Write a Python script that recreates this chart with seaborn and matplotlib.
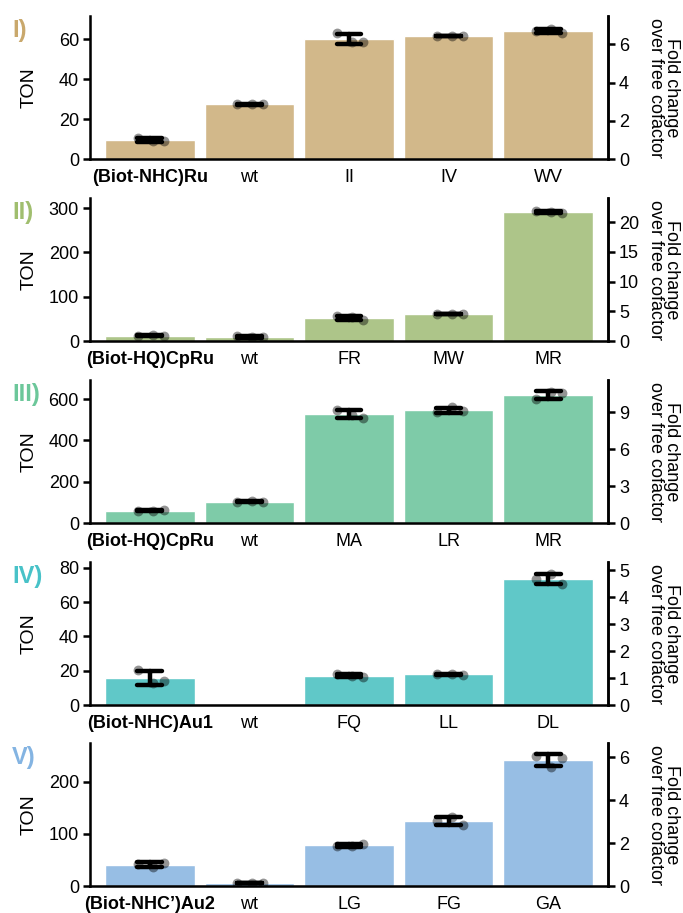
import numpy as np
import pandas as pd
import matplotlib
matplotlib.use('Agg')
import matplotlib.pyplot as plt
from matplotlib.ticker import MultipleLocator
import seaborn as sns

nan = np.nan

# categories per panel
cats_1 = ['(Biot-NHC)Ru', 'wt', 'II', 'IV', 'WV']
cats_2 = ['(Biot-HQ)CpRu', 'wt', 'FR', 'MW', 'MR']
cats_3 = ['(Biot-HQ)CpRu', 'wt', 'MA', 'LR', 'MR']
cats_4 = ['(Biot-NHC)Au1', 'wt', 'FQ', 'LL', 'DL']
cats_5 = ['(Biot-NHC\u2019)Au2', 'wt', 'LG', 'FG', 'GA']

# TON replicates (3 per category)
ton_1 = [[10.4, 9.2, 8.9], [27.3, 27.3, 27.6], [62.8, 58.6, 58.6],
         [61.5, 61.6, 61.7], [64.0, 65.0, 63.0]]
ton_2 = [[11.0, 13.5, 11.5], [11.0, 9.0, 8.0], [55.5, 55.0, 47.5],
         [62.0, 61.0, 61.5], [293.0, 292.5, 288.0]]
ton_3 = [[57.5, 60.0, 62.5], [100.5, 107.5, 103.0], [549.0, 522.0, 509.0],
         [535.0, 560.0, 543.0], [598.0, 635.0, 629.0]]
ton_4 = [[20.6, 13.0, 13.8], [nan, nan, nan], [18.3, 16.7, 16.4],
         [17.9, 18.1, 17.7], [73.7, 76.6, 70.8]]
ton_5 = [[41.4, 35.5, 44.5], [6.5, 5.5, 5.5], [76.0, 77.0, 80.0],
         [124.0, 132.0, 117.0], [248.5, 228.0, 246.0]]

panel_names = ['I)', 'II)', 'III)', 'IV)', 'V)']
bar_colors = ['#D2B88A', '#ADC589', '#7ECBA8', '#60C8C8', '#97BEE4']
label_colors = ['#C9A86C', '#A0BE6E', '#6CC79A', '#48C2C8', '#84B4E2']

ton_top = [71.5, 323, 692, 83.5, 274]
fold_top = [7.49, 24.1, 11.64, 5.31, 6.66]
ton_step = [20, 100, 200, 20, 100]
fold_step = [2, 5, 3, 1, 2]

rep_offset = [-0.12, 0.03, 0.14]

sns.set_style('ticks')
plt.rcParams['font.family'] = ['Liberation Sans', 'DejaVu Sans']
plt.rcParams['font.size'] = 13
for key in ['text.color', 'axes.labelcolor', 'xtick.color', 'ytick.color', 'axes.edgecolor']:
    plt.rcParams[key] = 'black'

fig = plt.figure(figsize=(6.83, 9.13), dpi=100)

tops = [16, 198, 380, 562, 743]
H = 143
W, Hf = 683.0, 913.0

panels = [(cats_1, ton_1), (cats_2, ton_2), (cats_3, ton_3), (cats_4, ton_4), (cats_5, ton_5)]

for i, (cats, tons) in enumerate(panels):
    ax = fig.add_axes([90 / W, 1 - (tops[i] + H) / Hf, 518 / W, H / Hf])

    rows = []
    for j, c in enumerate(cats):
        for k, v in enumerate(tons[j]):
            rows.append({'cat': c, 'rep': k, 'ton': v, 'xpos': j + rep_offset[k]})
    df = pd.DataFrame(rows)

    sns.barplot(data=df, x='cat', y='ton', order=cats, color=bar_colors[i],
                saturation=1, width=0.9, errorbar='sd', capsize=0.25,
                err_kws={'color': 'black', 'linewidth': 3.2}, ax=ax)
    sns.scatterplot(data=df.dropna(), x='xpos', y='ton', color='black', alpha=0.42,
                    s=50, linewidth=0, zorder=4, ax=ax)

    ax.set_xlim(-0.6, 4.6)
    ax.set_ylim(0, ton_top[i])
    ax.yaxis.set_major_locator(MultipleLocator(ton_step[i]))
    ax.set_xlabel('')
    ax.set_ylabel('TON', fontsize=14)
    ax.yaxis.set_label_coords(-0.102, 0.5)
    ax.set_xticks(range(len(cats)))
    ax.set_xticklabels(cats)
    ax.get_xticklabels()[0].set_fontweight('bold')
    ax.tick_params(axis='x', length=0, pad=7, labelsize=13)
    ax.tick_params(axis='y', length=5, width=1.8, labelsize=13, pad=3)
    for s in ['left', 'bottom', 'right']:
        ax.spines[s].set_linewidth(1.8)
    ax.spines['top'].set_visible(False)

    ax2 = ax.twinx()
    ax2.set_ylim(0, fold_top[i])
    ax2.yaxis.set_major_locator(MultipleLocator(fold_step[i]))
    ax2.tick_params(axis='y', length=5, width=1.8, labelsize=13, pad=3)
    ax2.spines['right'].set_linewidth(1.8)
    ax2.spines['top'].set_visible(False)
    ax2.set_ylabel('Fold change\nover free cofactor', rotation=270, va='bottom',
                   fontsize=13, linespacing=0.95)
    ax2.yaxis.set_label_coords(1.075, 0.5)

    fig.text(12 / W, 1 - (tops[i] + 14) / Hf, panel_names[i], color=label_colors[i],
             fontsize=17, fontweight='bold', va='center', ha='left')

fig.savefig('out.png', dpi=100)
